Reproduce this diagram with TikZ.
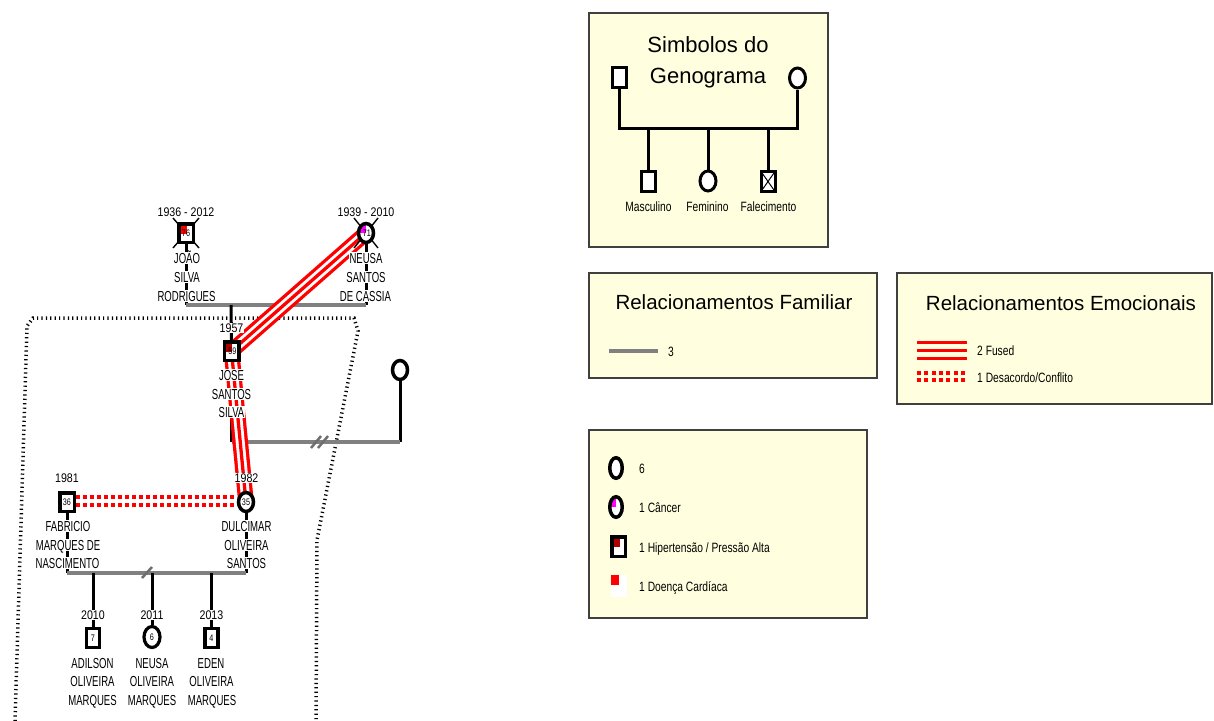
\documentclass[tikz,border=0pt]{standalone}
\usepackage{fontspec}
\setmainfont{Liberation Sans}
\newfontfamily\namefont{Liberation Sans}[FakeStretch=0.66]
\newfontfamily\yearfont{Liberation Sans}[FakeStretch=0.85]
\newfontfamily\keyfont{Liberation Sans}[FakeStretch=0.76]
\usetikzlibrary{shapes.geometric,backgrounds}

\definecolor{note}{RGB}{255,255,224}
\definecolor{frame}{RGB}{64,64,64}
\definecolor{tiegray}{RGB}{128,128,128}
\definecolor{slashgray}{RGB}{110,110,110}
\definecolor{hyper}{RGB}{176,0,0}
\definecolor{cancer}{RGB}{255,0,255}

\tikzset{
  keybox/.style={draw=frame, line width=1.5pt, fill=note},
  sym/.style={draw=black, line width=3.5pt, fill=white, inner sep=0pt,
    font=\keyfont\fontsize{9.5}{10}\selectfont},
  msq/.style={sym, rectangle, minimum width=14.5pt, minimum height=18.5pt},
  fcirc/.style={sym, ellipse, minimum width=15pt, minimum height=19pt},
  kidsq/.style={sym, line width=3.2pt, rectangle, minimum width=13pt, minimum height=19pt},
  kidcirc/.style={sym, line width=3.2pt, ellipse, minimum width=16pt, minimum height=21pt},
  keysq/.style={sym, line width=3pt, rectangle, minimum width=14pt, minimum height=20pt},
  keycirc/.style={sym, line width=3pt, ellipse, minimum width=16pt, minimum height=20pt},
  hypercorner/.style={path picture={\fill[#1] (path picture bounding box.north west) rectangle ++(8pt,-10pt);}},
  cancerquarter/.style={path picture={\fill[cancer] (path picture bounding box.center) rectangle (path picture bounding box.north west);}},
  deathcross/.style={path picture={\draw[line width=1pt] (path picture bounding box.north west) -- (path picture bounding box.south east) (path picture bounding box.north east) -- (path picture bounding box.south west);}},
  xmark/.style={draw=black, line width=1.4pt},
  life/.style={draw=black, line width=3pt},
  tie/.style={draw=tiegray, line width=4pt},
  slash/.style={draw=slashgray, line width=2.5pt},
  fused/.style={draw=red, line width=3.3pt,
    preaction={draw=red, line width=3.3pt, double=white, double distance=9pt}},
  fusedkey/.style={draw=red, line width=3pt,
    preaction={draw=red, line width=3pt, double=note, double distance=13pt}},
  conflict/.style={draw=red, line width=4pt, dash pattern=on 4pt off 3pt},
  conflictkey/.style={draw=red, line width=3.5pt, dash pattern=on 4pt off 3.3pt},
  household/.style={draw=black, line width=3.5pt, dash pattern=on 1.2pt off 3.2pt},
  nm/.style={font=\namefont\fontsize{14.5}{15}\selectfont, fill=white,
    inner sep=0.5pt, text height=10.4pt, text depth=0pt},
  yr/.style={font=\yearfont\fontsize{12.5}{13}\selectfont, fill=white,
    inner sep=0.5pt, text height=9pt, text depth=0pt},
  keytxt/.style={font=\keyfont\fontsize{13.5}{14}\selectfont,
    inner sep=0pt, text height=9.7pt, text depth=0pt},
  bigtitle/.style={font=\fontsize{22}{24}\selectfont, inner sep=0pt,
    text height=15.8pt, text depth=0pt},
  title/.style={font=\fontsize{20.5}{22}\selectfont, inner sep=0pt,
    text height=14.7pt, text depth=0pt},
}

\begin{document}
\begin{tikzpicture}[x=1pt,y=-1pt]
\useasboundingbox (0,0) rectangle (1214,720);

% ---------------- grandparents ----------------
\coordinate (joaopos) at (186,233);
\draw[xmark] (joaopos) ++(-13,-15) -- ++(26,30);
\draw[xmark] (joaopos) ++(13,-15) -- ++(-26,30);
\node[msq, hypercorner=red] (joao) at (joaopos) {76};

\coordinate (neusapos) at (366,233);
\draw[xmark] (neusapos) ++(-12,-15) -- ++(24,30);
\draw[xmark] (neusapos) ++(12,-15) -- ++(-24,30);
\node[fcirc, cancerquarter] (neusa) at (neusapos) {\,71};

\node[yr] (joaoyear) at (186,211.5) {1936 - 2012};
\node[yr] (neusayear) at (366,211.5) {1939 - 2010};
\node[nm] (joaoA) at (187,258) {JOÃO};
\node[nm] (joaoB) at (187,277) {SILVA};
\node[nm] (joaoC) at (186.5,296) {RODRIGUES};
\node[nm] (neusaA) at (366,258) {NEUSA};
\node[nm] (neusaB) at (366,277) {SANTOS};
\node[nm] (neusaC) at (365.5,296) {DE CASSIA};

\coordinate (tieA) at (186,305);
\coordinate (tieB) at (366,305);
\coordinate (tieAkid) at (231,305);

% ---------------- second generation ----------------
\node[msq, hypercorner=hyper] (jose) at (231.5,351) {\,59};
\node[yr] (joseyear) at (231.5,328) {1957};
\node[nm] (joseA) at (231.5,375) {JOSE};
\node[nm] (joseB) at (231.5,394) {SANTOS};
\node[nm] (joseC) at (231.5,412) {SILVA};

\node[fcirc] (wife) at (400,370) {};
\coordinate (tieC) at (231.5,442);
\coordinate (tieD) at (400,442);
\coordinate (tieCkid) at (246,442);

% ---------------- third generation ----------------
\node[msq] (fabricio) at (67,502) {36};
\node[fcirc] (dulcimar) at (246,502) {35};
\node[yr] (fabyear) at (67,478) {1981};
\node[yr] (dulyear) at (246.5,478) {1982};
\node[nm] (fabA) at (68,526) {FABRICIO};
\node[nm] (fabB) at (68,545) {MARQUES DE};
\node[nm] (fabC) at (67.5,563) {NASCIMENTO};
\node[nm] (dulA) at (246.5,526) {DULCIMAR};
\node[nm] (dulB) at (246.5,545) {OLIVEIRA};
\node[nm] (dulC) at (246.5,563) {SANTOS};

\coordinate (tieE) at (67,573);
\coordinate (tieF) at (246,573);

% ---------------- children ----------------
\node[kidsq] (adilson) at (93,638) {7};
\node[kidcirc] (neusakid) at (152,637) {6};
\node[kidsq] (eden) at (211.5,638) {4};
\node[yr] (adyear) at (93,615) {2010};
\node[yr] (neyear) at (152,615) {2011};
\node[yr] (edyear) at (211.5,615) {2013};
\node[nm] (adA) at (92.5,663) {ADILSON};
\node[nm] (adB) at (92.5,681) {OLIVEIRA};
\node[nm] (adC) at (92.5,700) {MARQUES};
\node[nm] (neA) at (152,663) {NEUSA};
\node[nm] (neB) at (152,681) {OLIVEIRA};
\node[nm] (neC) at (152,700) {MARQUES};
\node[nm] (edA) at (211,663) {EDEN};
\node[nm] (edB) at (211.5,681) {OLIVEIRA};
\node[nm] (edC) at (212,700) {MARQUES};

% ---------------- lines behind the symbols ----------------
\begin{pgfonlayer}{background}
  % household boundary
  \draw[household] (15,721) -- (27,326) -- (33,318) -- (354,318)
        -- (358,331) -- (317,540) -- (316,721);

  % parents of Jose
  \draw[life] (joao.south) -- (tieA);
  \draw[life] (neusa.south) -- (tieB);
  \draw[tie] (tieA) -- (tieB);
  \draw[life] (tieAkid) -- (jose.north);

  % Jose and his partner
  \draw[life] (jose.south) -- (tieC);
  \draw[life] (wife.south) -- (tieD);
  \draw[tie] (tieC) -- (tieD);
  \draw[slash] (311,448) -- (321,436);
  \draw[slash] (318,448) -- (328,436);
  \draw[life] (tieCkid) -- (dulcimar.north);

  % Fabricio and Dulcimar
  \draw[life] (fabricio.south) -- (tieE);
  \draw[life] (dulcimar.south) -- (tieF);
  \draw[tie] (tieE) -- (tieF);
  \draw[slash] (142,578) -- (152,567);
  \draw[life] (adilson.north |- tieE) -- (adilson.north);
  \draw[life] (neusakid.north |- tieE) -- (neusakid.north);
  \draw[life] (eden.north |- tieE) -- (eden.north);

  % emotional relationships
  \draw[fused] (neusa.center) -- (jose.center);
  \draw[fused] (jose.center) -- (dulcimar.center);
  \draw[conflict, transform canvas={yshift=5pt}] (fabricio.east) -- (dulcimar.west);
  \draw[conflict, transform canvas={yshift=-3pt}] (fabricio.east) -- (dulcimar.west);
\end{pgfonlayer}

% ---------------- key: symbols ----------------
\draw[keybox] (589,13) rectangle (828,247);
\node[bigtitle] (keytitleA) at (708,45) {Simbolos do};
\node[bigtitle] (keytitleB) at (708,75.5) {Genograma};
\node[keysq] (keyfather) at (619,77) {};
\node[keycirc] (keymother) at (797.5,78) {};
\coordinate (keybarL) at (619,128);
\coordinate (keybarR) at (797.5,128);
\node[keysq] (keymale) at (648.5,181.5) {};
\node[keycirc] (keyfemale) at (708,181) {};
\node[keysq, deathcross] (keydead) at (768,181.5) {};
\draw[life] (keyfather.south) -- (keybarL) -- (keybarR) -- (keymother.south);
\draw[life] (keymale.north |- keybarL) -- (keymale.north);
\draw[life] (keyfemale.north |- keybarL) -- (keyfemale.north);
\draw[life] (keydead.north |- keybarL) -- (keydead.north);
\node[keytxt] (keymaletxt) at (648.5,207) {Masculino};
\node[keytxt] (keyfemaletxt) at (707.5,207) {Feminino};
\node[keytxt] (keydeadtxt) at (768.5,207) {Falecimento};

% ---------------- key: family relationships ----------------
\draw[keybox] (589,273) rectangle (877,378);
\node[title] (famtitle) at (734,302) {Relacionamentos Familiar};
\coordinate (famL) at (609,351);
\coordinate (famR) at (658,351);
\draw[tie] (famL) -- (famR);
\node[keytxt, anchor=west] (famtxt) at (668,352) {3};

% ---------------- key: emotional relationships ----------------
\draw[keybox] (897,273) rectangle (1212,404);
\node[title] (emotitle) at (1061,303) {Relacionamentos Emocionais};
\coordinate (fusL) at (917,350.5);
\coordinate (fusR) at (967,350.5);
\draw[fusedkey] (fusL) -- (fusR);
\node[keytxt, anchor=west] (fustxt) at (977,351) {2 Fused};
\coordinate (conAL) at (917,373);
\coordinate (conAR) at (967,373);
\coordinate (conBL) at (917,380);
\coordinate (conBR) at (967,380);
\draw[conflictkey] (conAL) -- (conAR);
\draw[conflictkey] (conBL) -- (conBR);
\node[keytxt, anchor=west] (contxt) at (977,377.5) {1 Desacordo/Conflito};

% ---------------- key: health ----------------
\draw[keybox] (589,430) rectangle (867,618);
\node[keycirc, line width=3.5pt, minimum width=12.5pt, minimum height=20.5pt] (keyplain) at (616,468) {};
\node[keycirc, line width=3.5pt, minimum width=12.5pt, minimum height=20.5pt, cancerquarter] (keycancer) at (616,507) {};
\node[keysq, line width=3.5pt, minimum width=13.5pt, minimum height=19.5pt, hypercorner=hyper] (keyhyper) at (618.5,546.5) {};
\node[fill=white, inner sep=0pt, minimum width=16pt, minimum height=22pt,
  path picture={\fill[red] (path picture bounding box.north west) rectangle ++(8pt,-10pt);}] (keyheart) at (619,586) {};
\node[keytxt, anchor=west] (plaintxt) at (639,469) {6};
\node[keytxt, anchor=west] (cancertxt) at (639,508) {1 Câncer};
\node[keytxt, anchor=west] (hypertxt) at (639,547.5) {1 Hipertensão / Pressão Alta};
\node[keytxt, anchor=west] (hearttxt) at (639,586.5) {1 Doença Cardíaca};
\end{tikzpicture}
\end{document}
